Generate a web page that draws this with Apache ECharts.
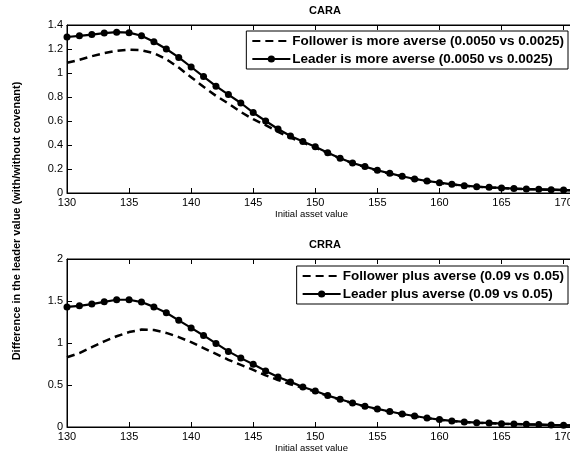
<!DOCTYPE html>
<html>
<head>
<meta charset="utf-8">
<script src="https://cdn.jsdelivr.net/npm/echarts@6/dist/echarts.min.js"></script>
<style>
  html, body { margin: 0; padding: 0; background: #fff; }
  #chart { width: 570px; height: 459px; }
</style>
</head>
<body>
<div id="chart"></div>
<script>
// Initial asset value grid (one point per unit)
const assetValues = [
  130, 131, 132, 133, 134, 135, 136, 137, 138, 139,
  140, 141, 142, 143, 144, 145, 146, 147, 148, 149,
  150, 151, 152, 153, 154, 155, 156, 157, 158, 159,
  160, 161, 162, 163, 164, 165, 166, 167, 168, 169, 170, 171
];

// CARA panel
const caraFollower = [
  1.085, 1.11, 1.14, 1.165, 1.185, 1.195, 1.19, 1.165, 1.115, 1.045,
  0.965, 0.885, 0.81, 0.745, 0.675, 0.615, 0.565, 0.51, 0.462, 0.42,
  0.378, 0.332, 0.287, 0.248, 0.217, 0.187, 0.161, 0.137, 0.115, 0.098,
  0.084, 0.07, 0.06, 0.052, 0.046, 0.041, 0.036, 0.032, 0.03, 0.027, 0.024, 0.022
];
const caraLeader = [
  1.30, 1.31, 1.32, 1.333, 1.34, 1.336, 1.31, 1.26, 1.20, 1.13,
  1.05, 0.97, 0.89, 0.82, 0.75, 0.67, 0.60, 0.533, 0.475, 0.43,
  0.385, 0.336, 0.29, 0.25, 0.22, 0.19, 0.164, 0.14, 0.117, 0.10,
  0.086, 0.072, 0.061, 0.053, 0.047, 0.042, 0.037, 0.033, 0.031, 0.028, 0.025, 0.023
];

// CRRA panel
const crraFollower = [
  0.83, 0.88, 0.95, 1.02, 1.08, 1.13, 1.16, 1.155, 1.12, 1.07,
  1.01, 0.94, 0.87, 0.80, 0.74, 0.68, 0.615, 0.56, 0.51, 0.465,
  0.42, 0.37, 0.326, 0.283, 0.245, 0.212, 0.181, 0.152, 0.128, 0.105,
  0.086, 0.07, 0.059, 0.051, 0.046, 0.039, 0.035, 0.031, 0.028, 0.023, 0.019, 0.017
];
const crraLeader = [
  1.43, 1.443, 1.463, 1.49, 1.515, 1.515, 1.487, 1.43, 1.36, 1.27,
  1.18, 1.09, 0.995, 0.90, 0.82, 0.748, 0.668, 0.596, 0.537, 0.477,
  0.428, 0.374, 0.33, 0.286, 0.247, 0.215, 0.184, 0.155, 0.131, 0.107,
  0.088, 0.072, 0.06, 0.052, 0.048, 0.04, 0.036, 0.032, 0.029, 0.024, 0.02, 0.018
];

const caraNames = [
  'Follower is more averse (0.0050 vs 0.0025)',
  'Leader is more averse (0.0050 vs 0.0025)'
];
const crraNames = [
  'Follower plus averse (0.09 vs 0.05)',
  'Leader plus averse (0.09 vs 0.05)'
];

const xTickStep = 5;
const caraY = { max: 1.4, step: 0.2 };
const crraY = { max: 2, step: 0.5 };

const FONT = '"Liberation Sans", Arial, Helvetica, sans-serif';

function pairs(ys) {
  return assetValues.map((x, i) => [x, ys[i]]);
}

function bottomX(gridIndex) {
  return {
    type: 'value', gridIndex, min: 130, max: 171, interval: xTickStep,
    position: 'bottom',
    name: 'Initial asset value', nameLocation: 'middle', nameGap: 15,
    nameTextStyle: { fontFamily: FONT, fontSize: 9.5, color: '#000', padding: [0, 0, 0, -20] },
    axisLine: { show: true, onZero: false, lineStyle: { color: '#000', width: 1 } },
    axisTick: { show: true, inside: true, length: 5, lineStyle: { color: '#000' } },
    axisLabel: { show: true, fontFamily: FONT, fontSize: 11, color: '#000', margin: 4, showMaxLabel: false },
    splitLine: { show: false }
  };
}
function topX(gridIndex) {
  return {
    type: 'value', gridIndex, min: 130, max: 171, interval: xTickStep,
    position: 'top',
    axisLine: { show: true, onZero: false, lineStyle: { color: '#000', width: 1 } },
    axisTick: { show: true, inside: true, length: 5, lineStyle: { color: '#000' } },
    axisLabel: { show: false },
    splitLine: { show: false }
  };
}
function leftY(gridIndex, cfg) {
  return {
    type: 'value', gridIndex, min: 0, max: cfg.max, interval: cfg.step,
    axisLine: { show: true, onZero: false, lineStyle: { color: '#000', width: 1 } },
    axisTick: { show: true, inside: true, length: 5, lineStyle: { color: '#000' } },
    axisLabel: { fontFamily: FONT, fontSize: 11, color: '#000', margin: 4 },
    splitLine: { show: false }
  };
}

function dashedSeries(name, ys, idx) {
  return {
    type: 'line', name, data: pairs(ys), xAxisIndex: idx * 2, yAxisIndex: idx,
    symbol: 'none', smooth: false, animation: false, clip: true,
    lineStyle: { color: '#000', width: 2.5, type: [8, 5] },
    itemStyle: { color: '#000' }
  };
}
function markedSeries(name, ys, idx) {
  return {
    type: 'line', name, data: pairs(ys), xAxisIndex: idx * 2, yAxisIndex: idx,
    symbol: 'circle', symbolSize: 7, showSymbol: true, animation: false, clip: true,
    lineStyle: { color: '#000', width: 2.2, type: 'solid' },
    itemStyle: { color: '#000' }
  };
}

function legendBox(names, top) {
  return {
    // the dashed entry shows only its line, no marker
    data: [
      { name: names[0], itemStyle: { color: 'rgba(0,0,0,0)', borderWidth: 0 } },
      { name: names[1] }
    ],
    orient: 'vertical', right: 2, top,
    itemWidth: 38, itemHeight: 9, itemGap: 4,
    padding: [3, 4, 3, 5],
    backgroundColor: '#fff', borderColor: '#000', borderWidth: 1, borderRadius: 0,
    textStyle: { fontFamily: FONT, fontSize: 13.5, fontWeight: 'bold', color: '#000', padding: [0, 0, 0, -3] },
    selectedMode: false
  };
}

const chart = echarts.init(document.getElementById('chart'), null, { renderer: 'canvas' });

// plot area runs slightly past the right edge of the canvas (x range 130–171)
chart.setOption({
  backgroundColor: '#fff',
  animation: false,
  title: [
    { text: 'CARA', left: 320, top: 0, textAlign: 'center',
      textStyle: { fontFamily: FONT, fontSize: 11, fontWeight: 'bold', color: '#000' } },
    { text: 'CRRA', left: 320, top: 234, textAlign: 'center',
      textStyle: { fontFamily: FONT, fontSize: 11, fontWeight: 'bold', color: '#000' } }
  ],
  grid: [
    { left: 67, top: 25, width: 509, height: 168, show: true, borderColor: '#000', borderWidth: 1,
      containLabel: false, outerBoundsMode: 'none' },
    { left: 67, top: 259, width: 509, height: 168, show: true, borderColor: '#000', borderWidth: 1,
      containLabel: false, outerBoundsMode: 'none' }
  ],
  xAxis: [bottomX(0), topX(0), bottomX(1), topX(1)],
  yAxis: [leftY(0, caraY), leftY(1, crraY)],
  legend: [
    legendBox(caraNames, 31),
    legendBox(crraNames, 266)
  ],
  graphic: [
    {
      type: 'text', x: 17, y: 221, rotation: Math.PI / 2,
      style: {
        text: 'Difference in the leader value (with/without covenant)',
        fontFamily: FONT, fontSize: 11, fontWeight: 'bold', fill: '#000',
        align: 'center', verticalAlign: 'middle'
      }
    }
  ],
  series: [
    dashedSeries(caraNames[0], caraFollower, 0),
    markedSeries(caraNames[1], caraLeader, 0),
    dashedSeries(crraNames[0], crraFollower, 1),
    markedSeries(crraNames[1], crraLeader, 1)
  ]
});
</script>
</body>
</html>
